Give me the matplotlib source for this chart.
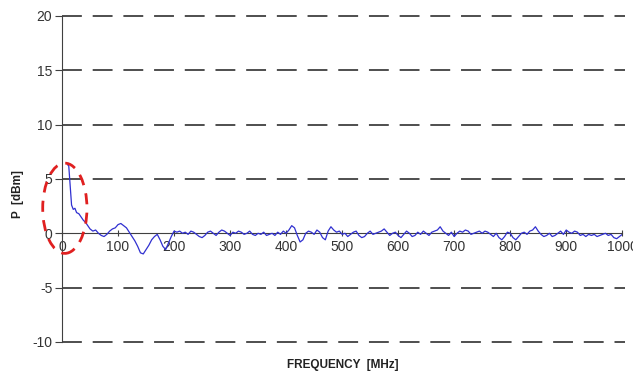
import matplotlib
matplotlib.use("Agg")
import matplotlib.pyplot as plt
from matplotlib.patches import Ellipse

# spectrum (MHz, dBm)
freq_mhz = [10, 12, 15, 17, 20, 23, 26, 30, 34, 38, 42, 46, 50, 55, 60, 65, 70, 75, 80, 85,
            90, 95, 100, 105, 110, 115, 120, 125, 130, 135, 140, 145, 150, 155, 160, 165, 170,
            175, 180, 185, 190, 195, 200, 205, 210, 215, 220, 225, 230, 235, 240, 245, 250,
            255, 260, 265, 270, 275, 280, 285, 290, 295, 300, 305, 310, 315, 320, 325, 330,
            335, 340, 345, 350, 355, 360, 365, 370, 375, 380, 385, 390, 395, 400, 405, 410,
            415, 420, 425, 430, 435, 440, 445, 450, 455, 460, 465, 470, 475, 480, 485, 490,
            495, 500, 505, 510, 515, 520, 525, 530, 535, 540, 545, 550, 555, 560, 565, 570,
            575, 580, 585, 590, 595, 600, 605, 610, 615, 620, 625, 630, 635, 640, 645, 650,
            655, 660, 665, 670, 675, 680, 685, 690, 695, 700, 705, 710, 715, 720, 725, 730,
            735, 740, 745, 750, 755, 760, 765, 770, 775, 780, 785, 790, 795, 800, 805, 810,
            815, 820, 825, 830, 835, 840, 845, 850, 855, 860, 865, 870, 875, 880, 885, 890,
            895, 900, 905, 910, 915, 920, 925, 930, 935, 940, 945, 950, 955, 960, 965, 970,
            975, 980, 985, 990, 995, 1000]
power_dbm = [6.3, 6.2, 4.0, 2.6, 2.2, 2.3, 1.9, 1.8, 1.5, 1.2, 1.0, 0.7, 0.4, 0.2, 0.3, 0.0,
             -0.2, -0.3, -0.1, 0.2, 0.4, 0.5, 0.8, 0.9, 0.7, 0.5, 0.1, -0.3, -0.7, -1.2, -1.8,
             -1.9, -1.5, -1.1, -0.6, -0.3, -0.1, -0.6, -1.2, -1.5, -0.9, -0.3, 0.2, 0.1, 0.2,
             0.0, 0.1, -0.1, 0.2, 0.1, -0.1, -0.3, -0.4, -0.2, 0.1, 0.2, 0.0, -0.2, 0.1, 0.3,
             0.2, 0.0, -0.2, 0.1, 0.0, 0.2, 0.1, -0.1, 0.0, 0.2, -0.1, -0.2, 0.0, -0.1, 0.1,
             -0.2, -0.1, 0.0, -0.2, 0.1, -0.1, 0.2, 0.0, 0.3, 0.7, 0.5, -0.2, -0.8, -0.6, 0.0,
             0.2, 0.1, -0.1, 0.3, 0.1, -0.4, -0.6, 0.2, 0.6, 0.3, 0.1, 0.2, -0.1, 0.0, -0.3,
             -0.1, 0.1, 0.2, -0.2, -0.4, -0.3, 0.0, 0.2, -0.1, 0.0, 0.1, 0.2, 0.4, 0.1, -0.2,
             0.0, 0.1, -0.2, -0.4, -0.1, 0.2, 0.0, -0.3, -0.2, 0.1, -0.1, 0.2, 0.0, -0.2, 0.1,
             0.2, 0.3, 0.6, 0.2, 0.0, -0.2, 0.1, -0.3, 0.0, 0.2, 0.1, 0.3, 0.2, -0.1, 0.0, 0.1,
             0.2, 0.0, 0.2, 0.1, -0.1, -0.3, 0.0, -0.4, -0.6, -0.3, 0.1, 0.0, -0.4, -0.6, -0.3,
             0.0, 0.1, -0.1, 0.2, 0.3, 0.6, 0.2, -0.1, -0.3, -0.2, 0.0, -0.3, -0.2, 0.0, 0.2,
             -0.1, 0.3, 0.1, 0.0, 0.2, 0.1, -0.2, -0.1, -0.3, -0.1, -0.2, -0.1, -0.3, -0.2,
             -0.1, 0.0, -0.2, -0.1, -0.4, -0.5, -0.3, -0.1]

x_ticks = [0, 100, 200, 300, 400, 500, 600, 700, 800, 900, 1000]
y_ticks = [-10, -5, 0, 5, 10, 15, 20]

plt.rcParams['font.family'] = ['Liberation Sans', 'DejaVu Sans']
plt.rcParams['axes.unicode_minus'] = False

fig = plt.figure(figsize=(6.33, 3.74), dpi=100)
ax = fig.add_axes([0.098, 0.0856, 0.885, 0.872])

# dashed grid lines (not at zero, the axis sits there)
for yv in y_ticks:
    if yv != 0:
        ax.axhline(yv, color='#404040', lw=1.3, dashes=(11, 6), xmax=1.005, clip_on=False, zorder=1)

ax.plot(freq_mhz, power_dbm, color='#3030d0', lw=0.9, zorder=3)

# marker ellipse around the low-frequency rise
ell = Ellipse((5, 2.3), 79, 8.3, fill=False, edgecolor='#e02020', lw=2.0,
              linestyle=(0, (4, 3)), clip_on=False, zorder=4)
ax.add_patch(ell)

ax.set_xlim(0, 1000)
ax.set_ylim(-10, 20)
ax.set_xticks(x_ticks)
ax.set_yticks(y_ticks)

ax.spines['top'].set_visible(False)
ax.spines['right'].set_visible(False)
ax.spines['bottom'].set_position(('data', 0))
ax.spines['bottom'].set_color('#404040')
ax.spines['left'].set_color('#404040')
ax.spines['bottom'].set_zorder(2)

ax.tick_params(axis='x', direction='inout', length=5, colors='#404040', labelcolor='#333333',
               labelsize=10, pad=2)
ax.tick_params(axis='y', direction='out', length=5, colors='#404040', labelcolor='#333333',
               labelsize=10, pad=2)

fig.text(0.542, 0.025, 'FREQUENCY  [MHz]', ha='center', va='center', fontsize=8.5,
         fontweight='bold', color='#222222')
fig.text(0.028, 0.48, 'P  [dBm]', ha='center', va='center', rotation=90, fontsize=8.5,
         fontweight='bold', color='#222222')

fig.savefig('out.png', dpi=100)
